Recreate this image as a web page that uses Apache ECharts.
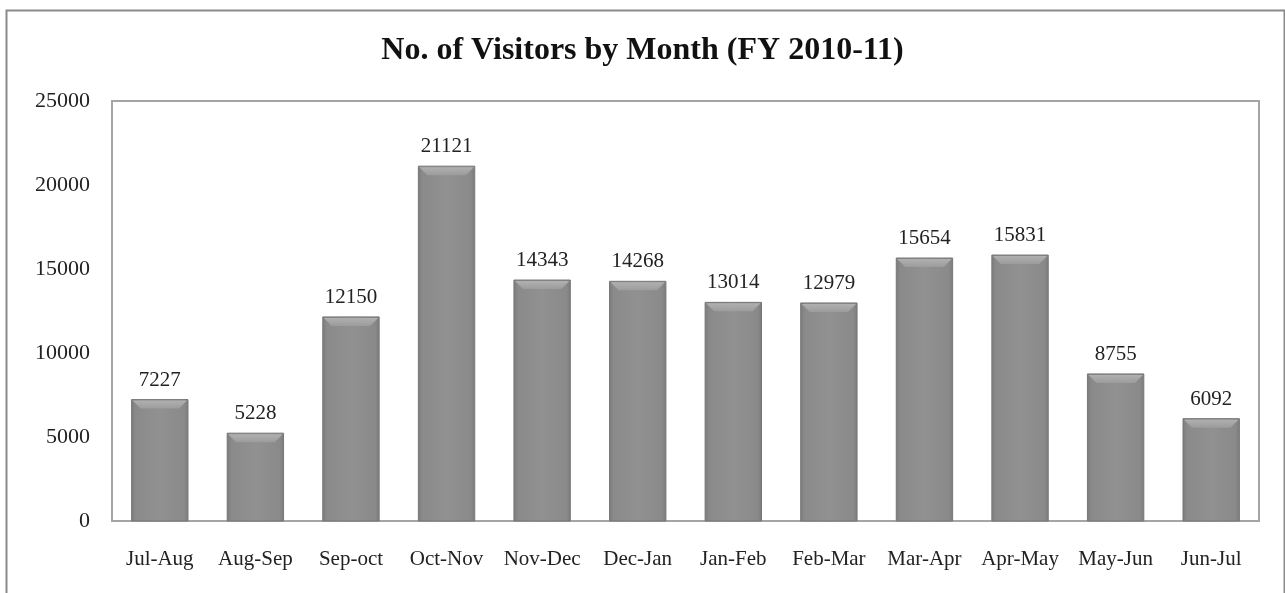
<!DOCTYPE html>
<html><head><meta charset="utf-8">
<script src="https://cdn.jsdelivr.net/npm/echarts@6/dist/echarts.min.js"></script>
<style>html,body{margin:0;padding:0;background:#fff}#c{width:1285px;height:593px}</style>
</head><body><div id="c"></div>
<script>
const categories = ['Jul-Aug','Aug-Sep','Sep-oct','Oct-Nov','Nov-Dec','Dec-Jan','Jan-Feb','Feb-Mar','Mar-Apr','Apr-May','May-Jun','Jun-Jul'];
const visitors = [7227,5228,12150,21121,14343,14268,13014,12979,15654,15831,8755,6092];
const yTicks = [0,5000,10000,15000,20000,25000];

const chart = echarts.init(document.getElementById('c'), null, {renderer:'canvas'});
const font = '"Liberation Serif","Times New Roman",serif';

function renderBar(params, api) {
  const v = api.value(1);
  const top = api.coord([api.value(0), v]);
  const base = api.coord([api.value(0), 0]);
  const bw = api.size([1, 0])[0] * 0.59;
  const x0 = top[0] - bw / 2, x1 = top[0] + bw / 2;
  const y0 = top[1], y1 = base[1];
  const bev = 9;
  return {
    type: 'group',
    children: [
      {type:'rect', shape:{x:x0, y:y0, width:bw, height:y1-y0},
       style:{fill:new echarts.graphic.LinearGradient(0,0,1,0,[
         {offset:0,color:'#7b7b7b'},{offset:0.08,color:'#8a8a8a'},{offset:0.5,color:'#919191'},{offset:0.92,color:'#8a8a8a'},{offset:1,color:'#7b7b7b'}]),
         stroke:'#777', lineWidth:1}},
      {type:'polygon', shape:{points:[[x0+1,y0+1],[x1-1,y0+1],[x1-bev,y0+bev],[x0+bev,y0+bev]]},
       style:{fill:new echarts.graphic.LinearGradient(0,0,0,1,[{offset:0,color:'#b0b0b0'},{offset:1,color:'#9c9c9c'}])}},
      {type:'text', style:{text:String(v), x:top[0], y:y0-9, align:'center', verticalAlign:'bottom',
        font:'21px ' + font, fill:'#222'}}
    ]
  };
}

chart.setOption({
  animation:false,
  backgroundColor:'#fff',
  title:{text:'No. of Visitors by Month (FY 2010-11)', left:'center', top:30,
    textStyle:{fontFamily:font, fontSize:32, fontWeight:'bold', color:'#111'}},
  graphic:[{type:'rect', left:4, top:8, shape:{width:1278, height:620}, style:{fill:null, stroke:'#8a8a8a', lineWidth:2}, silent:true}],
  grid:{left:112, right:26, top:101, bottom:72, show:true, borderColor:'#a5a5a5', borderWidth:2, backgroundColor:'transparent'},
  xAxis:{type:'category', data:categories,
    axisLine:{show:false}, axisTick:{show:false},
    axisLabel:{fontFamily:font, fontSize:21, color:'#222', margin:28, interval:0, hideOverlap:false}},
  yAxis:{type:'value', min:yTicks[0], max:yTicks[yTicks.length-1], interval:yTicks[1]-yTicks[0],
    axisLine:{show:false}, axisTick:{show:false}, splitLine:{show:false},
    axisLabel:{fontFamily:font, fontSize:22, color:'#222', margin:22, formatter:(v)=>String(v)}},
  series:[{type:'custom', renderItem:renderBar, data:visitors.map((v,i)=>[i,v]), encode:{x:0,y:1}}]
});
</script></body></html>
